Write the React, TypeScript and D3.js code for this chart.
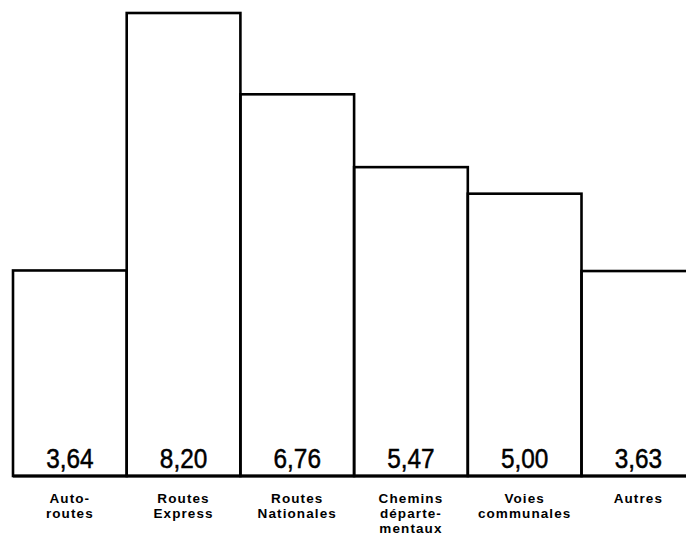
import React from "react";
import * as d3 from "d3";

const categories: string[][] = [
  ["Auto-", "routes"],
  ["Routes", "Express"],
  ["Routes", "Nationales"],
  ["Chemins", "départe-", "mentaux"],
  ["Voies", "communales"],
  ["Autres"],
];
const values: number[] = [3.64, 8.2, 6.76, 5.47, 5.0, 3.63];
const valueLabels: string[] = ["3,64", "8,20", "6,76", "5,47", "5,00", "3,63"];

const W = 686;
const H = 538;

export default function App() {
  const left = 13;
  const bandW = 113.7;
  const baseline = 476;
  const x = d3
    .scaleBand<number>()
    .domain(values.map((_, i) => i))
    .range([left, left + bandW * values.length])
    .padding(0);
  const y = d3.scaleLinear().domain([0, 8.2]).range([baseline, 13]);

  return (
    <svg
      width={W}
      height={H}
      style={{ position: "absolute", left: 0, top: 0, background: "#fff" }}
    >
      <rect x={0} y={0} width={W} height={H} fill="#fff" />
      {values.map((v, i) => (
        <rect
          key={i}
          x={x(i)!}
          y={y(v)}
          width={x.bandwidth()}
          height={baseline - y(v)}
          fill="none"
          stroke="#000"
          strokeWidth={2.6}
        />
      ))}
      <line x1={left} x2={W} y1={baseline} y2={baseline} stroke="#000" strokeWidth={2.8} />
      {valueLabels.map((t, i) => (
        <text
          key={i}
          transform={`translate(${x(i)! + x.bandwidth() / 2},468) scale(0.87,1)`}
          textAnchor="middle"
          fontFamily="'Liberation Sans', Arial, sans-serif"
          fontSize={28}
          stroke="#000"
          strokeWidth={0.5}
          fill="#000"
        >
          {t}
        </text>
      ))}
      {categories.map((lines, i) => (
        <text
          key={i}
          x={x(i)! + x.bandwidth() / 2}
          y={503}
          textAnchor="middle"
          fontFamily="'Liberation Sans', Arial, sans-serif"
          fontSize={13.5}
          fontWeight="bold"
          letterSpacing={1.1}
          fill="#000"
        >
          {lines.map((l, j) => (
            <tspan key={j} x={x(i)! + x.bandwidth() / 2} dy={j === 0 ? 0 : 15}>
              {l}
            </tspan>
          ))}
        </text>
      ))}
    </svg>
  );
}
